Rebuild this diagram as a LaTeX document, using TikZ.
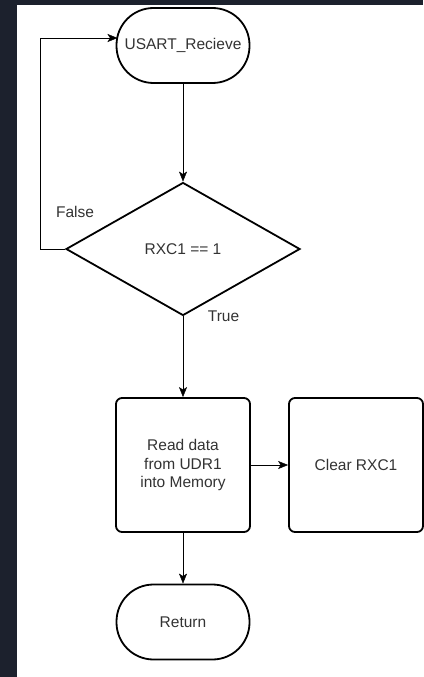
\documentclass[tikz,border=0pt]{standalone}
\usepackage{fontspec}
\setmainfont{Liberation Sans}
\usepackage{xcolor}
\usepackage{tikz}
\usetikzlibrary{positioning}
\usetikzlibrary{shapes.geometric}
\usetikzlibrary{arrows.meta}
\pgfdeclarelayer{background}
\pgfdeclarelayer{nodelayer}
\pgfdeclarelayer{edgelayer}
\pgfsetlayers{background,nodelayer,edgelayer,main}
\definecolor{pagebg}{RGB}{28,33,45}
\definecolor{textgrey}{RGB}{51,51,51}
\tikzset{
    none/.style = {inner sep=0pt},
    terminal/.style = {draw, fill=white, line width=1.8pt, rounded corners=37pt, minimum width=133pt, minimum height=75pt, inner sep=0pt, text=textgrey},
    decision/.style = {draw, diamond, fill=white, line width=1.8pt, minimum width=234pt, minimum height=133pt, inner sep=0pt, text=textgrey},
    process/.style = {draw, fill=white, line width=1.8pt, rounded corners=6pt, minimum width=134pt, minimum height=134pt, inner sep=0pt, align=center, text=textgrey},
    flowtext/.style = {inner sep=0pt, text=textgrey}
}

\begin{document}
\begin{tikzpicture}[x=1pt, y=-1pt, line width=1.3pt, >={Stealth[length=10pt, width=8pt, inset=2.5pt]}, font=\fontsize{15.5}{18.7}\selectfont]
  \begin{pgfonlayer}{background}
    \fill [pagebg] (0, 0) rectangle (423, 677);
    \fill [white] (17, 5) rectangle (423, 677);
  \end{pgfonlayer}
  \begin{pgfonlayer}{nodelayer}
    \node [style=terminal] (0) at (183, 45.5) {USART\_Recieve};
    \node [style=decision] (1) at (183, 249) {RXC1 == 1};
    \node [style=process] (2) at (183, 465) {Read data\\from UDR1\\into Memory};
    \node [style=process] (3) at (356, 465) {Clear RXC1};
    \node [style=terminal] (4) at (183, 622) {Return};
    \node [style=none] (5) at (40, 249) {};
    \node [style=none] (6) at (40, 38) {};
    \node [style=none] (7) at (117.5, 38) {};
    \node [style=flowtext] (8) at (75, 212) {False};
    \node [style=flowtext] (9) at (223.5, 316) {True};
  \end{pgfonlayer}
  \begin{pgfonlayer}{edgelayer}
    \draw [->] (0) to (1);
    \draw [->] (1.west) to (5.center) to (6.center) to (7.center);
    \draw [->] (1) to (2);
    \draw [->] (2) to (3);
    \draw [->] (2) to (4);
  \end{pgfonlayer}
\end{tikzpicture}
\end{document}
